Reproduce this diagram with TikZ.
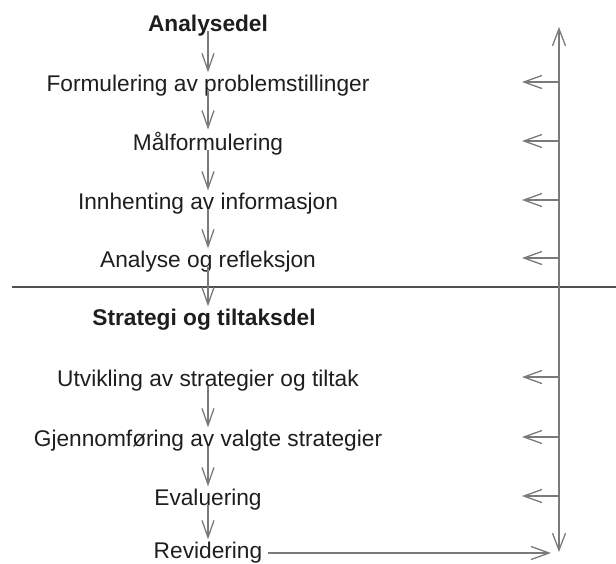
\documentclass[tikz,border=0pt]{standalone}
\usepackage{fontspec}
\setmainfont{Liberation Sans}
\usetikzlibrary{arrows.meta}
\usetikzlibrary{positioning}
\definecolor{arrowgray}{RGB}{122,122,122}
\definecolor{rulegray}{RGB}{80,80,80}
\definecolor{textblack}{RGB}{30,30,30}

\begin{document}
\begin{tikzpicture}[x=1pt,y=-1pt]
	 \tikzstyle{stage}=[inner sep=0pt,anchor=base,text=textblack,font=\fontsize{22.7}{27}\selectfont]
	 \tikzstyle{head}=[stage,font=\fontsize{22.7}{27}\selectfont\bfseries]
	 \tikzstyle{flow} = [draw,line width=1.3pt,arrowgray,-{Straight Barb[length=17pt,width=12pt]}]
	 \tikzstyle{rule} = [draw,line width=1.2pt,rulegray]
	 \useasboundingbox (0,0) rectangle (616,563);

	 \node[head] (ana) at (208,31) {Analysedel};
	 \node[stage] (form) at (208,91) {Formulering av problemstillinger};
	 \node[stage] (maal) at (208,150) {Målformulering};
	 \node[stage] (innh) at (208,209) {Innhenting av informasjon};
	 \node[stage] (refl) at (208,267) {Analyse og refleksjon};

	 \node[head] (strat) at (204,325) {Strategi og tiltaksdel};
	 \node[stage] (utv) at (208,386) {Utvikling av strategier og tiltak};
	 \node[stage] (gjen) at (208,446) {Gjennomføring av valgte strategier};
	 \node[stage] (eval) at (208,505) {Evaluering};
	 \node[stage] (rev) at (208,558) {Revidering};

	 \coordinate (top) at (559,27);
	 \coordinate (bot) at (559,552);
	 \coordinate (tipcol) at (522,0);
	 \coordinate (revend) at (551,0);
	 \coordinate (lineL) at (12,287);
	 \coordinate (lineR) at (616,287);

	 \draw[rule] (lineL) -- (lineR);

	 \draw[flow] (ana.base) -- ([yshift=2pt]form.north);
	 \draw[flow] (form.base) -- ([yshift=2pt]maal.north);
	 \draw[flow] (maal.base) -- ([yshift=2pt]innh.north);
	 \draw[flow] (innh.base) -- ([yshift=2pt]refl.north);
	 \draw[flow] (refl.base) -- ([yshift=2pt]strat.north -| refl.base);
	 \draw[flow] (utv.base) -- ([yshift=2pt]gjen.north);
	 \draw[flow] (gjen.base) -- ([yshift=2pt]eval.north);
	 \draw[flow] (eval.base) -- ([yshift=2pt]rev.north);

	 \draw[flow,{Straight Barb[length=17pt,width=13pt]}-{Straight Barb[length=17pt,width=13pt]}] (bot) -- (top);
	 \foreach \n in {form,maal,innh,refl,utv,gjen,eval}
	 	\draw[flow,-{Straight Barb[length=18pt,width=13pt]}] ([yshift=9pt]\n.base -| top) -- ([yshift=9pt]\n.base -| tipcol);
	 \draw[flow,-{Straight Barb[length=18pt,width=13pt]}] ([xshift=6pt,yshift=5pt]rev.base east) -- ([yshift=5pt]rev.base -| revend);
\end{tikzpicture}
\end{document}
